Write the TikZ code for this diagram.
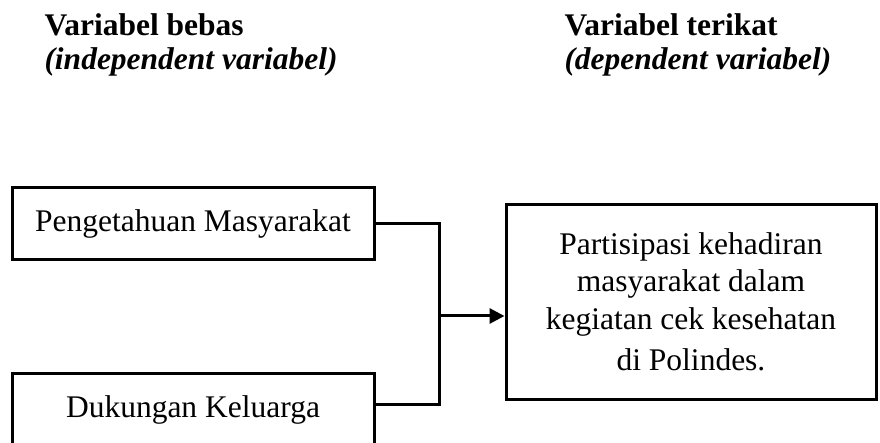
\documentclass[tikz,border=0pt]{standalone}
\usepackage{fontspec}
\setmainfont{Liberation Serif}
\usetikzlibrary{arrows.meta}

\begin{document}
\begin{tikzpicture}[x=1pt, y=-1pt, line width=3pt,
    every node/.style={font=\fontsize{31.5}{37.5}\selectfont},
    varbox/.style={draw, rectangle, line width=3pt, inner sep=0pt, align=center},
    heading/.style={anchor=base west, inner sep=0pt}]
    \useasboundingbox (0,0) rectangle (880,443);

    % Draw the headings
    \node[heading, font=\fontsize{31.5}{37.5}\selectfont\bfseries] (freehead) at (43,36) {Variabel bebas};
    \node[heading, font=\fontsize{31.5}{37.5}\selectfont\bfseries\itshape] (freesub) at (43,70) {(independent variabel)};
    \node[heading, font=\fontsize{31.5}{37.5}\selectfont\bfseries] (boundhead) at (563,36) {Variabel terikat};
    \node[heading, font=\fontsize{31.5}{37.5}\selectfont\bfseries\itshape] (boundsub) at (563,70) {(dependent variabel)};

    % Draw the boxes
    \node[varbox, minimum width=362, minimum height=72] (knowbox) at (193,224) {Pengetahuan Masyarakat};
    \node[varbox, minimum width=362, minimum height=72] (famibox) at (193,409.5) {Dukungan Keluarga};
    \node[varbox, minimum width=370, minimum height=195] (partbox) at (691,302)
        {Partisipasi kehadiran\\ masyarakat dalam\\ kegiatan cek kesehatan\\[4pt] di Polindes.};

    % Draw the lines joining the boxes
    \coordinate (joint) at (439,316);
    \draw[line join=miter] (knowbox.east) -| (joint) |- ([yshift=5pt]famibox.east);
    \draw[-{Triangle[length=15pt, width=15pt]}] (joint) -- (joint -| partbox.west);

\end{tikzpicture}
\end{document}
